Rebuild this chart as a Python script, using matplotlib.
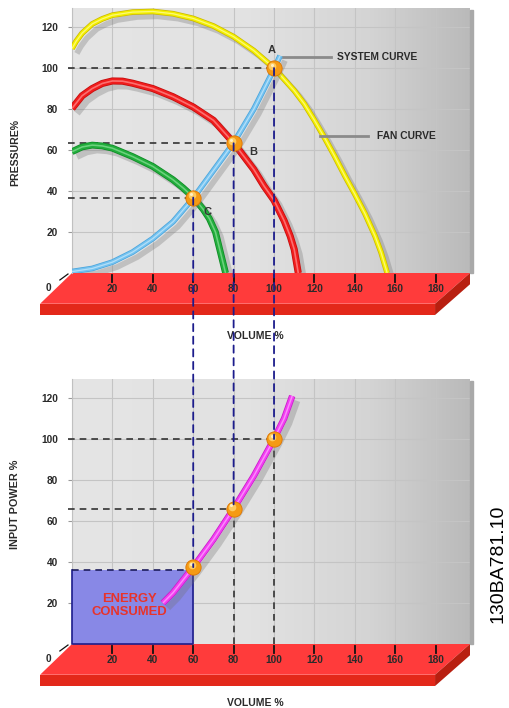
import numpy as np
import matplotlib
matplotlib.use('Agg')
import matplotlib.pyplot as plt
from matplotlib.patches import Polygon, Rectangle, ConnectionPatch
import matplotlib.patheffects as pe
from matplotlib.transforms import ScaledTranslation
from matplotlib.colors import LinearSegmentedColormap

plt.rcParams['font.family'] = ['Liberation Sans', 'DejaVu Sans']

# ---------------- data ----------------
volume_ticks = [20, 40, 60, 80, 100, 120, 140, 160, 180]
y_ticks = [20, 40, 60, 80, 100, 120]

fan100_v = [0, 2, 5, 10, 15, 20, 30, 40, 50, 60, 70, 80, 90, 100, 105, 110, 115, 120, 125, 130,
            135, 140, 145, 150, 153, 156]
fan100_p = [109.5, 113, 117, 121.5, 124, 125.8, 127.3, 127.6, 126.5, 124.2, 120.5, 115.3, 108.5, 100,
            94.5, 89, 82.5, 74.5, 66, 57, 47.5, 38.5, 29, 18, 10, 0]
fan80_v = [0, 5, 10, 15, 20, 25, 30, 40, 50, 60, 70, 80, 85, 90, 95, 100, 105, 108, 110, 112]
fan80_p = [80.3, 86.5, 90, 92.5, 93.7, 93.6, 92.6, 90, 86, 81, 74.5, 63.5, 57, 50.5, 42.5, 35.5,
           25.5, 18, 11.5, 0]
fan60_v = [0, 5, 10, 15, 20, 30, 40, 50, 55, 60, 65, 68, 71, 73, 74.5, 76]
fan60_p = [59.2, 61.5, 62.4, 62, 60.9, 56.8, 52, 45.5, 41.5, 37, 31, 26.5, 20, 12, 6, 0]
system_v = [0, 10, 20, 30, 40, 50, 60, 70, 80, 90, 100, 103]
system_p = [0.7, 2.2, 5.3, 10.2, 16.8, 25, 36.5, 50, 63.5, 80, 99.5, 106]

op_labels = ['C', 'B', 'A']
op_v = [60, 80, 100]
op_pressure = [36.8, 63.3, 100]
op_power = [37.5, 66, 100]

power_v = [45, 50, 60, 70, 80, 90, 100, 105, 109]
power_p = [20, 25, 37.5, 51, 66, 82, 100, 110, 121]

energy_v = 60
energy_p = 36

# ---------------- figure ----------------
W, H = 510, 708
fig = plt.figure(figsize=(W / 100, H / 100), dpi=100)
fig.patch.set_facecolor('white')

XMAX, YMAX = 197, 129.3


def px_axes(left, right, top, bottom):
    return fig.add_axes([left / W, 1 - bottom / H, (right - left) / W, (bottom - top) / H])


ax_t = px_axes(72, 470, 8, 273)
ax_b = px_axes(72, 470, 379, 644)

bg_cmap = LinearSegmentedColormap.from_list(
    'bg', [(0, '#e5e5e5'), (0.45, '#e2e2e2'), (0.75, '#d4d4d4'), (1, '#bababa')])
grad = np.linspace(0, 1, 256)[None, :]

TXT = '#2a2a2a'


def setup(ax):
    ax.imshow(grad, extent=[0, XMAX, 0, YMAX], aspect='auto', cmap=bg_cmap, zorder=-2)
    ax.set_xlim(0, XMAX)
    ax.set_ylim(0, YMAX)
    ax.set_xticks([0] + volume_ticks)
    ax.set_xticklabels([])
    ax.set_yticks(y_ticks)
    ax.set_yticklabels([str(t) for t in y_ticks], fontsize=7.3, fontweight='bold', color=TXT)
    ax.tick_params(axis='x', length=0)
    ax.tick_params(axis='y', length=3, color='#999999', pad=7)
    ax.grid(True, color='#c4c4c4', lw=0.8, zorder=-1)
    ax.set_axisbelow(True)
    for s in ['top', 'right', 'bottom']:
        ax.spines[s].set_visible(False)
    ax.spines['left'].set_color('#c0c0c0')
    ax.spines['left'].set_linewidth(0.8)
    # right edge shadow of the panel
    ax.add_patch(Rectangle((XMAX, 0), 1.6, YMAX - 1, color='#a9a9a9', clip_on=False, zorder=1))
    # red floor slab
    top = Polygon([(0, 0), (XMAX, 0), (179.7, -15), (-15.8, -15)], closed=True,
                  facecolor='#ff3b3b', edgecolor='none', clip_on=False, zorder=2)
    front = Polygon([(-15.8, -15), (179.7, -15), (179.7, -20.5), (-15.8, -20.5)], closed=True,
                    facecolor='#e3281a', edgecolor='none', clip_on=False, zorder=2)
    side = Polygon([(179.7, -15), (XMAX, 0), (XMAX, -5.5), (179.7, -20.5)], closed=True,
                   facecolor='#b81f10', edgecolor='none', clip_on=False, zorder=2)
    for p in (top, front, side):
        ax.add_patch(p)
    for v in volume_ticks:
        ax.plot([v, v], [-1.2, -4.6], color='#111111', lw=1.3, clip_on=False, zorder=3)
        ax.text(v, -7.6, str(v), ha='center', va='center', fontsize=7.3, fontweight='bold',
                color=TXT, clip_on=False, zorder=3)
    ax.text(-11.9, -7.4, '0', ha='center', va='center', fontsize=7.3, fontweight='bold',
            color=TXT, clip_on=False, zorder=3)
    ax.plot([-6, -2], [-3.4, -0.5], color='#111111', lw=0.9, clip_on=False, zorder=3)


setup(ax_t)
setup(ax_b)


def tube(ax, x, y, edge, main, hi, lw=3.6, z=5):
    kw = dict(solid_capstyle='butt', solid_joinstyle='round', zorder=z)
    ax.plot(x, y, color=edge, lw=lw + 1.1, **kw,
            path_effects=[pe.SimpleLineShadow(offset=(3.5, -3.5), shadow_color='#6e6e6e', alpha=0.3),
                          pe.Normal()])
    ax.plot(x, y, color=main, lw=lw, **kw)
    ax.plot(x, y, color=hi, lw=lw * 0.3, alpha=0.75, **kw)


dash = (0, (4, 3))

# ---------- top chart ----------
for v, p in zip(op_v, op_pressure):
    ax_t.plot([-2, v], [p, p], color='#333333', lw=1.2, linestyle=dash, clip_on=False, zorder=4)

tube(ax_t, fan100_v, fan100_p, '#cbb800', '#f4f000', '#fffca0', lw=3.0)
tube(ax_t, fan80_v, fan80_p, '#c30d0d', '#f01d1d', '#ff8c8c', lw=4.0)
tube(ax_t, fan60_v, fan60_p, '#0e8a25', '#22ad3c', '#86de94', lw=3.8)
tube(ax_t, system_v, system_p, '#4ba5dc', '#76c3f0', '#c8e9fb', lw=3.0, z=6)

ax_t.plot([104.5, 128], [105.4, 105.4], color='#8a8a8a', lw=2, zorder=5)
ax_t.text(131, 105.4, 'SYSTEM CURVE', ha='left', va='center', fontsize=7.4, fontweight='bold', color=TXT)
ax_t.plot([122.8, 146.5], [66.8, 66.8], color='#8a8a8a', lw=2, zorder=5)
ax_t.text(151, 66.8, 'FAN CURVE', ha='left', va='center', fontsize=7.4, fontweight='bold', color=TXT)

label_offsets = {'A': (-1, 9), 'B': (9.6, -4.5), 'C': (7.3, -7.2)}
for lab, v, p in zip(op_labels, op_v, op_pressure):
    dx, dy = label_offsets[lab]
    ax_t.text(v + dx, p + dy, lab, ha='center', va='center', fontsize=8, fontweight='bold',
              color='#333333', zorder=8)

# ---------- bottom chart ----------
ax_b.add_patch(Rectangle((0, 0), energy_v, energy_p, facecolor='#8888e6', edgecolor='none', zorder=3))
ax_b.plot([0, 0, energy_v, energy_v], [energy_p, 0, 0, energy_p], color='#1d1d8c', lw=1.2, zorder=3,
          clip_on=False)
ax_b.plot([0, energy_v], [energy_p, energy_p], color='#1d1d5c', lw=1.2, linestyle=dash, zorder=3)
ax_b.text(28.6, 18.8, 'ENERGY\nCONSUMED', ha='center', va='center', fontsize=9.4, fontweight='bold',
          color='#e8332a', linespacing=1.15, zorder=4)

for v, p in zip(op_v[1:], op_power[1:]):
    ax_b.plot([-2, v], [p, p], color='#333333', lw=1.2, linestyle=dash, clip_on=False, zorder=4)
    ax_b.plot([v, v], [p, 0], color='#333333', lw=1.2, linestyle=dash, zorder=4)

tube(ax_b, power_v, power_p, '#c620c6', '#f23ef2', '#ffa6ff', lw=3.6)


# ---------- operating points ----------
def sphere(ax, v, p):
    ax.plot([v], [p], marker='o', ms=11, mfc='#f59a14', mec='#df7400', mew=0.6, zorder=9)
    off = ax.transData + ScaledTranslation(-1.2 / 72, 1.6 / 72, fig.dpi_scale_trans)
    ax.plot([v], [p], marker='o', ms=5.5, mfc='#ffd06a', mec='none', alpha=0.9, transform=off, zorder=9)
    off2 = ax.transData + ScaledTranslation(-1.8 / 72, 2.4 / 72, fig.dpi_scale_trans)
    ax.plot([v], [p], marker='o', ms=2.2, mfc='#fff4d0', mec='none', alpha=0.9, transform=off2, zorder=9)


for v, p in zip(op_v, op_pressure):
    sphere(ax_t, v, p)
for v, p in zip(op_v, op_power):
    sphere(ax_b, v, p)

# vertical dashed connectors from top operating points to bottom ones
for v, p_top, p_bot in zip(op_v, op_pressure, op_power):
    con = ConnectionPatch(xyA=(v, p_top), coordsA=ax_t.transData,
                          xyB=(v, p_bot), coordsB=ax_b.transData,
                          color='#1c1c8c', lw=1.3, linestyle=dash, zorder=10)
    fig.add_artist(con)

# axis titles
ax_t.text(90.6, -30.7, 'VOLUME %', ha='center', va='center', fontsize=7.5, fontweight='bold',
          color=TXT, clip_on=False)
ax_b.text(90.6, -28.8, 'VOLUME %', ha='center', va='center', fontsize=7.5, fontweight='bold',
          color=TXT, clip_on=False)
fig.text(15 / W, 1 - 152 / H, 'PRESSURE%', rotation=90, ha='center', va='center', fontsize=7.6,
         fontweight='bold', color=TXT)
fig.text(15 / W, 1 - 504 / H, 'INPUT POWER %', rotation=90, ha='center', va='center', fontsize=7.8,
         fontweight='bold', color=TXT)
fig.text(498 / W, 1 - 564 / H, '130BA781.10', rotation=90, ha='center', va='center', fontsize=14,
         color='#000000')

fig.savefig('out.png', dpi=100, facecolor='white')
